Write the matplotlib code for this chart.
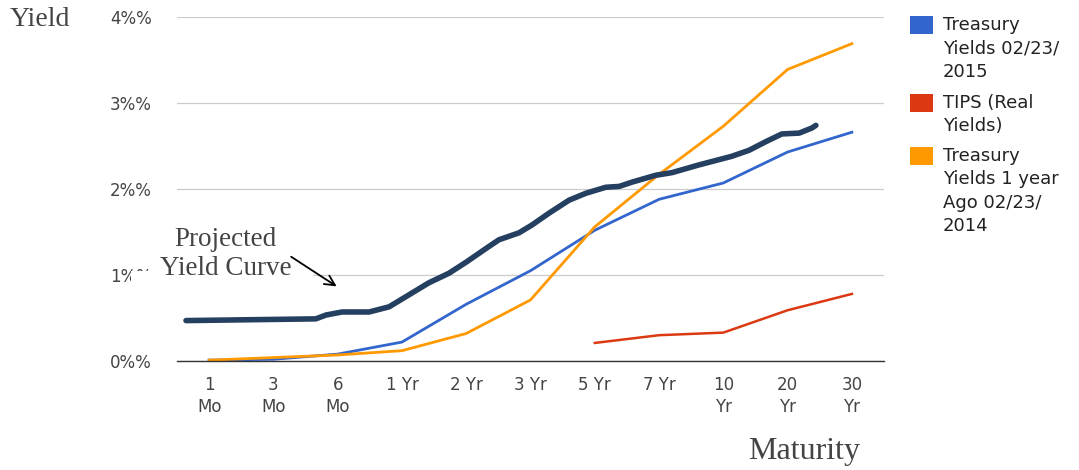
import matplotlib
matplotlib.use("Agg")
import matplotlib.pyplot as plt
from matplotlib.patches import Rectangle

maturities = ["1\nMo", "3\nMo", "6\nMo", "1 Yr", "2 Yr", "3 Yr", "5 Yr", "7 Yr",
              "10\nYr", "20\nYr", "30\nYr"]
yield_ticks = [0, 1, 2, 3, 4]
yield_labels = ["0%%", "1%%", "2%%", "3%%", "4%%"]

treasury_2015 = [0.01, 0.02, 0.08, 0.22, 0.66, 1.05, 1.52, 1.88, 2.07, 2.43, 2.66]
tips_maturities = ["5 Yr", "7 Yr", "10\nYr", "20\nYr", "30\nYr"]
tips_real = [0.21, 0.30, 0.33, 0.59, 0.78]
treasury_2014 = [0.01, 0.04, 0.07, 0.12, 0.32, 0.71, 1.56, 2.17, 2.73, 3.39, 3.69]

# projected curve is hand drawn, so it sits between the maturity slots
proj_pos = [-0.36, 1.66, 1.82, 2.07, 2.49, 2.80, 3.11, 3.42, 3.73, 4.00, 4.35, 4.51,
            4.82, 5.02, 5.29, 5.60, 5.86, 6.17, 6.38, 6.58, 6.95, 7.20, 7.62, 8.13,
            8.40, 8.66, 8.91, 9.18, 9.38, 9.44]
proj_yield = [0.47, 0.49, 0.535, 0.57, 0.57, 0.63, 0.77, 0.91, 1.02, 1.15, 1.33, 1.41,
              1.49, 1.58, 1.72, 1.87, 1.95, 2.02, 2.03, 2.08, 2.16, 2.19, 2.28, 2.38,
              2.45, 2.55, 2.64, 2.65, 2.71, 2.74]

series_names = ["Treasury\nYields 02/23/\n2015", "TIPS (Real\nYields)",
                "Treasury\nYields 1 year\nAgo 02/23/\n2014"]
series_colors = ["#3366cc", "#dc3912", "#ff9900"]
proj_color = "#243f5f"

fig = plt.figure(figsize=(10.79, 4.70), dpi=100)
ax = fig.add_axes([177 / 1079, 1 - 361 / 470, 707 / 1079, 344 / 470])

x = list(range(len(maturities)))
tips_x = [maturities.index(m) for m in tips_maturities]
ax.plot(x, treasury_2015, color=series_colors[0], lw=2.0, zorder=3)
ax.plot(tips_x, tips_real, color=series_colors[1], lw=1.8, zorder=3)
ax.plot(x, treasury_2014, color=series_colors[2], lw=2.0, zorder=4)
ax.plot(proj_pos, proj_yield, color=proj_color, lw=4.0, zorder=5,
        solid_capstyle="round", solid_joinstyle="round")

ax.set_xlim(-0.5, 10.5)
ax.set_ylim(0, 4)
ax.set_xticks(x)
ax.set_xticklabels(maturities, fontsize=12, color="#444444", linespacing=1.3)
ax.set_yticks(yield_ticks)
ax.set_yticklabels(yield_labels, fontsize=12, color="#444444")
ax.tick_params(axis="x", length=0, pad=11)
ax.tick_params(axis="y", length=0, pad=18)
for tl in ax.get_xticklabels():
    tl.set_verticalalignment("top")
ax.grid(axis="y", color="#cccccc", lw=0.9)
ax.set_axisbelow(True)
for side in ["left", "right", "top"]:
    ax.spines[side].set_visible(False)
ax.spines["bottom"].set_color("#333333")
ax.spines["bottom"].set_linewidth(1.0)
ax.spines["bottom"].set_zorder(6)

# white backing of the pasted note hides part of the 1% row
ax.add_patch(Rectangle((131 / 1079, 1 - 292 / 470), 182 / 1079, 21 / 470,
                       transform=fig.transFigure, facecolor="white",
                       edgecolor="none", zorder=1, clip_on=False))

ax.text(0.26, 1.24, "Projected\nYield Curve", ha="center", va="center",
        fontsize=19.5, family="Liberation Serif", color="#444444",
        linespacing=1.2, zorder=7)
ax.annotate("", xy=(2.02, 0.85), xytext=(1.24, 1.23),
            arrowprops=dict(arrowstyle="->", color="black", lw=1.3,
                            mutation_scale=18), zorder=7)

fig.text(10 / 1079, 1 - 19 / 470, "Yield", ha="left", va="center",
         fontsize=20, family="Liberation Serif", color="#444444")
fig.text(860 / 1079, 1 - 451 / 470, "Maturity", ha="right", va="center",
         fontsize=23, family="Liberation Serif", color="#444444")

# legend on the right
legend_tops = [16, 94, 147]
for name, color, top in zip(series_names, series_colors, legend_tops):
    fig.patches.append(Rectangle((910 / 1079, 1 - (top + 18) / 470), 23 / 1079, 18 / 470,
                                 transform=fig.transFigure, facecolor=color,
                                 edgecolor="none"))
    fig.text(943 / 1079, 1 - top / 470, name, ha="left", va="top",
             fontsize=13, color="#222222", linespacing=1.38)

fig.savefig("out.png", dpi=100)
